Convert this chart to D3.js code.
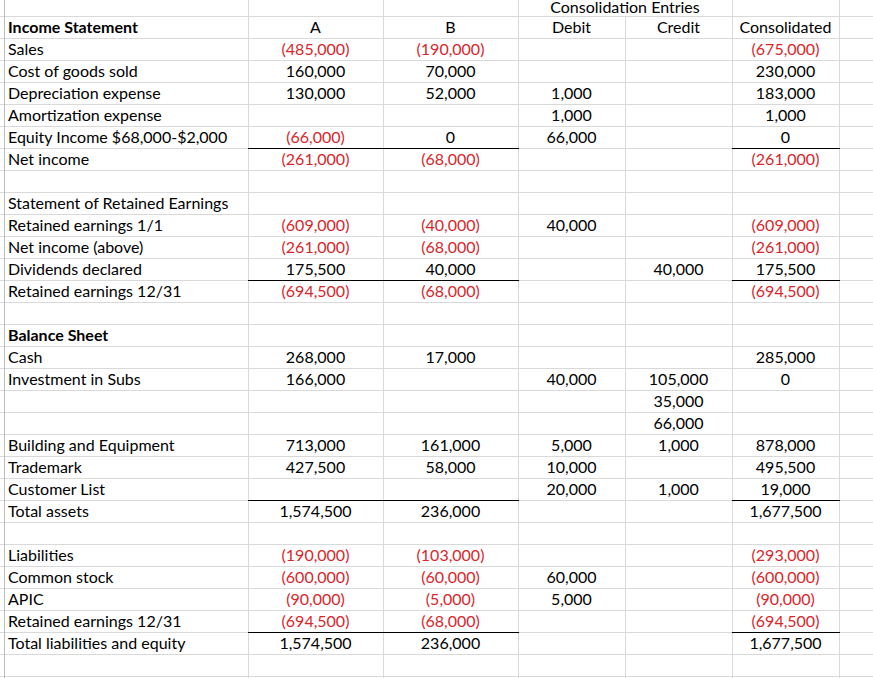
<!DOCTYPE html>
<html>
<head>
<meta charset="utf-8">
<script src="https://cdn.jsdelivr.net/npm/d3@7"></script>
<style>
  body { margin: 0; background: #fff; }
  text { font-family: Lato, "Open Sans", sans-serif; font-size: 16px; }
</style>
</head>
<body>
<div id="sheet"></div>
<script>
// worksheet rows (index 0 = header row above "Income Statement")
var labels = ["", "Income Statement", "Sales", "Cost of goods sold", "Depreciation expense",
    "Amortization expense", "Equity Income $68,000-$2,000", "Net income", "",
    "Statement of Retained Earnings", "Retained earnings 1/1", "Net income (above)",
    "Dividends declared", "Retained earnings 12/31", "", "Balance Sheet", "Cash",
    "Investment in Subs", "", "", "Building and Equipment", "Trademark", "Customer List",
    "Total assets", "", "Liabilities", "Common stock", "APIC", "Retained earnings 12/31",
    "Total liabilities and equity", ""];

var colA = [null, null, -485000, 160000, 130000, null, -66000, -261000, null, null,
    -609000, -261000, 175500, -694500, null, null, 268000, 166000, null, null,
    713000, 427500, null, 1574500, null, -190000, -600000, -90000, -694500, 1574500, null];
var colB = [null, null, -190000, 70000, 52000, null, 0, -68000, null, null,
    -40000, -68000, 40000, -68000, null, null, 17000, null, null, null,
    161000, 58000, null, 236000, null, -103000, -60000, -5000, -68000, 236000, null];
var debit = [null, null, null, null, 1000, 1000, 66000, null, null, null,
    40000, null, null, null, null, null, null, 40000, null, null,
    5000, 10000, 20000, null, null, null, 60000, 5000, null, null, null];
var credit = [null, null, null, null, null, null, null, null, null, null,
    null, null, 40000, null, null, null, null, 105000, 35000, 66000,
    1000, null, 1000, null, null, null, null, null, null, null, null];
var consolidated = [null, null, -675000, 230000, 183000, 1000, 0, -261000, null, null,
    -609000, -261000, 175500, -694500, null, null, 285000, 0, null, null,
    878000, 495500, 19000, 1677500, null, -293000, -600000, -90000, -694500, 1677500, null];

var columnKeys = ["label", "A", "B", "Debit", "Credit", "Consolidated", "extra"];
var headers = ["A", "B", "Debit", "Credit", "Consolidated"];
var groupHeader = "Consolidation Entries";
var boldRows = [1, 15];
var underlineRows = [6, 12, 22, 28];
var underlineCols = ["A", "B", "Consolidated"];

var series = {A: colA, B: colB, Debit: debit, Credit: credit, Consolidated: consolidated};

var w = 873, h = 678,
    rowH = 22,
    colWidths = [244, 135, 135, 107, 107, 107, 40],
    left = 4;

// column edges
var edges = [left];
colWidths.forEach(function(cw, i){ edges.push(edges[i] + cw); });
var xLeft = d3.scaleOrdinal().domain(columnKeys).range(edges.slice(0, -1));
var xRight = d3.scaleOrdinal().domain(columnKeys).range(edges.slice(1));
function xMid(k){ return (xLeft(k) + xRight(k)) / 2; }

// row index -> top edge of row
var y = d3.scaleLinear().domain([0, 1]).range([-5.7, -5.7 + rowH]);
function baseline(r){ return y(r + 1) - 5; }

var fmt = d3.format(",");
function money(v){ return v < 0 ? "(" + fmt(-v) + ")" : fmt(v); }

var svg = d3.select("#sheet").append("svg")
    .attr("width", w)
    .attr("height", h);

svg.append("rect").attr("width", w).attr("height", h).attr("fill", "#fff");

var grid = svg.append("g").attr("stroke", "#d9d9d9").attr("stroke-width", 1)
    .attr("shape-rendering", "crispEdges");

var rowIdx = d3.range(1, 32);
grid.selectAll(".hline")
    .data(rowIdx)
    .enter().append("line")
        .attr("class", "hline")
        .attr("x1", 0).attr("x2", w)
        .attr("y1", function(r){ return Math.round(y(r)) + 0.5; })
        .attr("y2", function(r){ return Math.round(y(r)) + 0.5; });

// vertical gridlines; Debit/Credit divider stops below the merged header
grid.selectAll(".vline")
    .data(columnKeys.slice(1))
    .enter().append("line")
        .attr("class", "vline")
        .attr("x1", function(k){ return xLeft(k) + 0.5; })
        .attr("x2", function(k){ return xLeft(k) + 0.5; })
        .attr("y1", function(k){ return k === "Credit" ? Math.round(y(1)) : 0; })
        .attr("y2", h);

svg.append("line")
    .attr("x1", left + 0.5).attr("x2", left + 0.5)
    .attr("y1", 0).attr("y2", h)
    .attr("stroke", "#bdbdbd")
    .attr("shape-rendering", "crispEdges");

// labels
svg.selectAll(".label")
    .data(labels)
    .enter().append("text")
        .attr("class", "label")
        .attr("x", xLeft("label") + 4)
        .attr("y", function(d, i){ return baseline(i); })
        .attr("fill", "#000")
        .style("font-weight", function(d, i){ return boldRows.indexOf(i) >= 0 ? "bold" : "normal"; })
        .text(function(d){ return d; });

// column headers
svg.selectAll(".header")
    .data(headers)
    .enter().append("text")
        .attr("class", "header")
        .attr("x", function(d){ return xMid(d); })
        .attr("y", baseline(1))
        .attr("text-anchor", "middle")
        .text(function(d){ return d; });

// merged header over Debit/Credit (row 0 is partly above the window)
svg.append("text")
    .attr("x", xRight("Debit"))
    .attr("y", baseline(0) + 2)
    .attr("text-anchor", "middle")
    .text(groupHeader);

// values
headers.forEach(function(k){
    var cells = series[k].map(function(v, i){ return {row: i, value: v}; })
        .filter(function(d){ return d.value !== null; });
    svg.selectAll(".val-" + k)
        .data(cells)
        .enter().append("text")
            .attr("class", "val-" + k)
            .attr("x", xMid(k))
            .attr("y", function(d){ return baseline(d.row); })
            .attr("text-anchor", "middle")
            .attr("fill", function(d){ return d.value < 0 ? "#d9262b" : "#000"; })
            .text(function(d){ return money(d.value); });
});

// total underlines
var under = [];
underlineRows.forEach(function(r){
    underlineCols.forEach(function(k){ under.push({row: r, col: k}); });
});
svg.selectAll(".under")
    .data(under)
    .enter().append("line")
        .attr("class", "under")
        .attr("x1", function(d){ return xLeft(d.col); })
        .attr("x2", function(d){ return xRight(d.col) + 1; })
        .attr("y1", function(d){ return Math.round(y(d.row + 1)) + 0.5; })
        .attr("y2", function(d){ return Math.round(y(d.row + 1)) + 0.5; })
        .attr("stroke", "#000")
        .attr("shape-rendering", "crispEdges");
</script>
</body>
</html>
